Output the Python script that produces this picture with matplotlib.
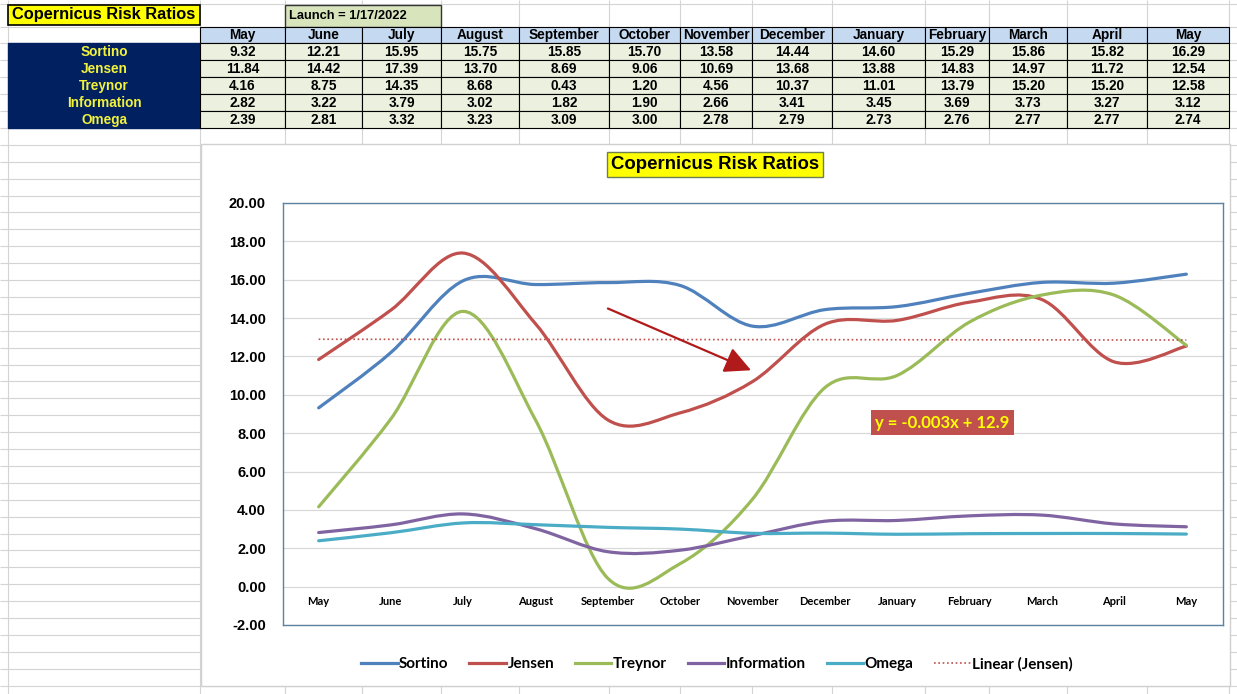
import numpy as np
import matplotlib
matplotlib.use("Agg")
import matplotlib.pyplot as plt
from matplotlib.patches import Rectangle, PathPatch
from matplotlib.path import Path
from matplotlib.lines import Line2D

# data
months = ["May", "June", "July", "August", "September", "October", "November",
          "December", "January", "February", "March", "April", "May"]
sortino = [9.32, 12.21, 15.95, 15.75, 15.85, 15.70, 13.58, 14.44, 14.60, 15.29, 15.86, 15.82, 16.29]
jensen = [11.84, 14.42, 17.39, 13.70, 8.69, 9.06, 10.69, 13.68, 13.88, 14.83, 14.97, 11.72, 12.54]
treynor = [4.16, 8.75, 14.35, 8.68, 0.43, 1.20, 4.56, 10.37, 11.01, 13.79, 15.20, 15.20, 12.58]
information = [2.82, 3.22, 3.79, 3.02, 1.82, 1.90, 2.66, 3.41, 3.45, 3.69, 3.73, 3.27, 3.12]
omega = [2.39, 2.81, 3.32, 3.23, 3.09, 3.00, 2.78, 2.79, 2.73, 2.76, 2.77, 2.77, 2.74]
series_names = ["Sortino", "Jensen", "Treynor", "Information", "Omega"]
series_colors = ["#4F81BD", "#C0504D", "#9BBB59", "#8064A2", "#4BACC6"]
title = "Copernicus Risk Ratios"
launch_text = "Launch = 1/17/2022"

series = [sortino, jensen, treynor, information, omega]

ARIAL = ["Liberation Sans", "DejaVu Sans"]
CALIBRI = ["Lato", "DejaVu Sans"]


def smooth_path(ys):
    # excel style smoothed line (bezier through every point)
    n = len(ys)
    pts = np.column_stack([np.arange(n), ys]).astype(float)
    verts = [pts[0]]
    codes = [Path.MOVETO]
    for i in range(n - 1):
        p0 = pts[max(i - 1, 0)]
        p1 = pts[i]
        p2 = pts[i + 1]
        p3 = pts[min(i + 2, n - 1)]
        verts += [p1 + (p2 - p0) / 6, p2 - (p3 - p1) / 6, p2]
        codes += [Path.CURVE4] * 3
    return Path(verts, codes)


fig = plt.figure(figsize=(12.37, 6.94), dpi=100)
fig.patch.set_facecolor("white")

# spreadsheet background
bg = fig.add_axes([0, 0, 1, 1])
bg.set_xlim(0, 1237)
bg.set_ylim(694, 0)
bg.axis("off")

col_edges = [8, 200, 285, 362, 441, 519, 609, 680, 752, 832, 925, 989, 1067, 1147, 1229]
row_top = 26.5
row_h = 16.9
row_lines = [4] + [row_top + row_h * k for k in range(40)]
bg.vlines(col_edges, 0, 694, color="#D4D4D4", lw=0.8, zorder=0)
bg.hlines(row_lines, 0, 1237, color="#D4D4D4", lw=0.8, zorder=0)

# title cell and launch cell
bg.add_patch(Rectangle((8, 4.5), 192, 20, fc="#FFFF00", ec="black", lw=1.2, zorder=2))
bg.text(104, 14.8, title, ha="center", va="center", fontsize=11.8, fontweight="bold",
        family=ARIAL, zorder=3)
bg.add_patch(Rectangle((285, 4.5), 156, 22, fc="#D8E4BC", ec="#333333", lw=1, zorder=2))
bg.text(289, 16, launch_text, ha="left", va="center", fontsize=9.3, fontweight="bold",
        family=ARIAL, zorder=3)

# header row
for j, m in enumerate(months):
    x0, x1 = col_edges[j + 1], col_edges[j + 2]
    bg.add_patch(Rectangle((x0, row_top), x1 - x0, row_h, fc="#C5D9F1", ec="black", lw=0.8, zorder=2))
    bg.text((x0 + x1) / 2, row_top + row_h / 2 + 0.5, m, ha="center", va="center",
            fontsize=9.8, fontweight="bold", family=ARIAL, zorder=3)

# label column
bg.add_patch(Rectangle((8, row_top + row_h), 192, 5 * row_h, fc="#002060", ec="#002060", lw=1, zorder=2))
for i, name in enumerate(series_names):
    y0 = row_top + row_h * (i + 1)
    bg.text(104, y0 + row_h / 2 + 0.5, name, ha="center", va="center", color="#F2F23C",
            fontsize=9.8, fontweight="bold", family=ARIAL, zorder=3)
    for j, v in enumerate(series[i]):
        x0, x1 = col_edges[j + 1], col_edges[j + 2]
        bg.add_patch(Rectangle((x0, y0), x1 - x0, row_h, fc="#EBF1DE", ec="black", lw=0.8, zorder=2))
        bg.text((x0 + x1) / 2, y0 + row_h / 2 + 0.5, f"{v:.2f}", ha="center", va="center",
                fontsize=9.8, fontweight="bold", family=ARIAL, zorder=3)

# chart area
bg.add_patch(Rectangle((201, 144), 1029, 542, fc="white", ec="#D0D0D0", lw=1, zorder=4))
bg.text(715, 164.5, title, ha="center", va="center", fontsize=13.4, fontweight="bold",
        family=ARIAL, zorder=5,
        bbox=dict(boxstyle="square,pad=0.2", fc="#FFFF00", ec="#6E7F50", lw=1))

# plot area
ax = fig.add_axes([282.5 / 1237, (694 - 625) / 694, 940 / 1237, 422 / 694])
ax.set_facecolor("none")
ax.set_xlim(-0.5, 12.5)
ax.set_ylim(-2, 20)
ax.set_yticks(np.arange(-2, 21, 2))
ax.set_yticklabels([f"{v:.2f}" for v in np.arange(-2, 21, 2)], fontsize=10.5,
                   fontweight="bold", family=ARIAL)
ax.tick_params(axis="y", length=0, pad=12)
ax.set_xticks([])
ax.grid(axis="y", color="#D9D9D9", lw=0.9)
ax.set_axisbelow(True)
for s in ax.spines.values():
    s.set_color("#5A84A2")
    s.set_linewidth(1)

x = np.arange(len(months))
for j, m in enumerate(months):
    ax.text(x[j], -0.78, m, ha="center", va="center", fontsize=8, fontweight="bold",
            family=CALIBRI)

for ys, c in zip(series, series_colors):
    ax.add_patch(PathPatch(smooth_path(ys), fill=False, edgecolor=c, lw=2.3,
                           capstyle="round", joinstyle="round", zorder=3))

# linear trend of Jensen
slope, intercept = np.polyfit(x + 1, jensen, 1)
ax.plot(x, slope * (x + 1) + intercept, color="#C0504D", lw=1.2, ls=(0, (1, 1.6)), zorder=4)
ax.text(8.63, 8.55, f"y = {slope:.3f}x + {intercept:.1f}", ha="center", va="center",
        fontsize=12, fontweight="bold", family=CALIBRI, color="#FFFF00", zorder=5,
        bbox=dict(boxstyle="square,pad=0.25", fc="#C0504D", ec="none"))

ax.annotate("", xy=(5.98, 11.28), xytext=(4.0, 14.5),
            arrowprops=dict(arrowstyle="-|>,head_length=1.0,head_width=0.5",
                            color="#B01A1A", lw=1.6, shrinkA=0, shrinkB=0,
                            mutation_scale=16), zorder=5)

handles = [Line2D([], [], color=c, lw=2.3) for c in series_colors]
handles.append(Line2D([], [], color="#C0504D", lw=1.2, ls=(0, (1, 1.6))))
labels = series_names + ["Linear (Jensen)"]
fig.legend(handles, labels, loc="center", bbox_to_anchor=(717 / 1237, 1 - 664 / 694),
           ncol=6, frameon=False, handlelength=2.4, handletextpad=0.1, columnspacing=1.35,
           prop=dict(family=CALIBRI, weight="bold", size=11))

fig.savefig("out.png", dpi=100, facecolor="white")
